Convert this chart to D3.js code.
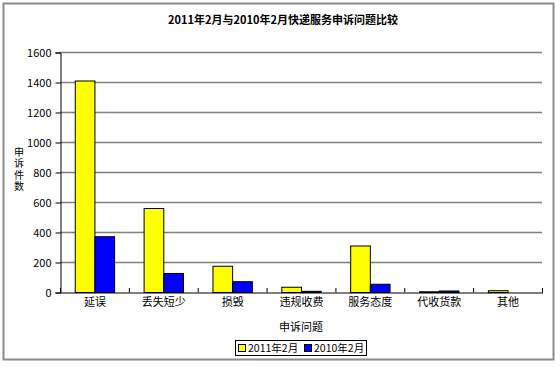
<!DOCTYPE html>
<html><head><meta charset="utf-8">
<script src="https://cdn.jsdelivr.net/npm/d3@7"></script>
<style>body{margin:0;background:#fff}svg{display:block}text{font-family:"Noto Sans CJK SC","DejaVu Sans",sans-serif}</style>
</head><body>
<svg id="c" width="560" height="367"></svg>
<script>
const categories = ["延误","丢失短少","损毁","违规收费","服务态度","代收货款","其他"];
const series = ["2011年2月","2010年2月"];
const values2011 = [1410, 560, 175, 35, 310, 5, 12];
const values2010 = [372, 127, 72, 8, 55, 10, 0];
const yTicks = [0,200,400,600,800,1000,1200,1400,1600];
const colors = ["#ffff00","#0000ff"];

const svg = d3.select("#c");
svg.append("rect").attr("x",3.5).attr("y",3.5).attr("width",550).attr("height",356)
  .attr("fill","#fff").attr("stroke","#8c8c8c").attr("stroke-width",2);

const L=60, R=542, T=52, B=292;
const x = d3.scaleBand().domain(categories).range([L,R]);
const y = d3.scaleLinear().domain([0,1600]).range([B,T]);
const bw = x.bandwidth()/3.5;

svg.append("g").selectAll("line").data(yTicks.filter(d=>d>0)).join("line")
  .attr("x1",L).attr("x2",R).attr("y1",d=>y(d)+0.5).attr("y2",d=>y(d)+0.5)
  .attr("stroke","#808080").attr("stroke-width",1.5);

const data = [values2011, values2010];
data.forEach((vals,si)=>{
  svg.append("g").selectAll("rect").data(categories).join("rect")
    .attr("x",(c)=>x(c)+bw*0.75+si*bw+0.5)
    .attr("y",(c,i)=>y(vals[i])+0.5)
    .attr("width",bw)
    .attr("height",(c,i)=>Math.max(0,B-y(vals[i])))
    .attr("fill",colors[si]).attr("stroke","#000").attr("stroke-width",1);
});

const ya = svg.append("g").attr("transform",`translate(${L+0.5},0.5)`)
  .call(d3.axisLeft(y).tickValues(yTicks).tickSize(5).tickFormat(d3.format("d")));
ya.select(".domain").attr("stroke","#000");
ya.selectAll("line").attr("stroke","#000");
ya.selectAll("text").attr("font-size",11).attr("fill","#000").attr("font-family","Liberation Sans, Arial, sans-serif").attr("x",-9);

const xa = svg.append("g").attr("transform",`translate(0.5,${B+0.5})`)
  .call(d3.axisBottom(x).tickSize(0).tickSizeOuter(0));
xa.select(".domain").attr("stroke","#000");
xa.selectAll("text").attr("font-size",11).attr("fill","#000").attr("dy","0.95em");
svg.append("g").selectAll("line").data(categories.concat(["_end"])).join("line")
  .attr("x1",(c,i)=>L+i*x.step()+0.5).attr("x2",(c,i)=>L+i*x.step()+0.5)
  .attr("y1",B+0.5).attr("y2",B-4).attr("stroke","#000");

svg.append("text").attr("x",283).attr("y",24).attr("text-anchor","middle")
  .attr("font-size",11).attr("font-weight","bold").text("2011年2月与2010年2月快递服务申诉问题比较");

svg.append("text").attr("x",19).attr("y",147)
  .style("writing-mode","vertical-rl").style("text-orientation","upright")
  .style("letter-spacing","1.5px")
  .attr("font-size",10).text("申诉件数");

svg.append("text").attr("x",301).attr("y",331).attr("text-anchor","middle")
  .attr("font-size",11).text("申诉问题");

const lg = svg.append("g");
lg.append("rect").attr("x",235.5).attr("y",340.5).attr("width",131).attr("height",15)
  .attr("fill","#fff").attr("stroke","#000");
series.forEach((s,i)=>{
  const ox = 238 + i*66;
  lg.append("rect").attr("x",ox+0.5).attr("y",344.5).attr("width",7).attr("height",7)
    .attr("fill",colors[i]).attr("stroke","#000");
  lg.append("text").attr("x",ox+10).attr("y",352).attr("font-size",10.5).text(s);
});
</script>
</body></html>
